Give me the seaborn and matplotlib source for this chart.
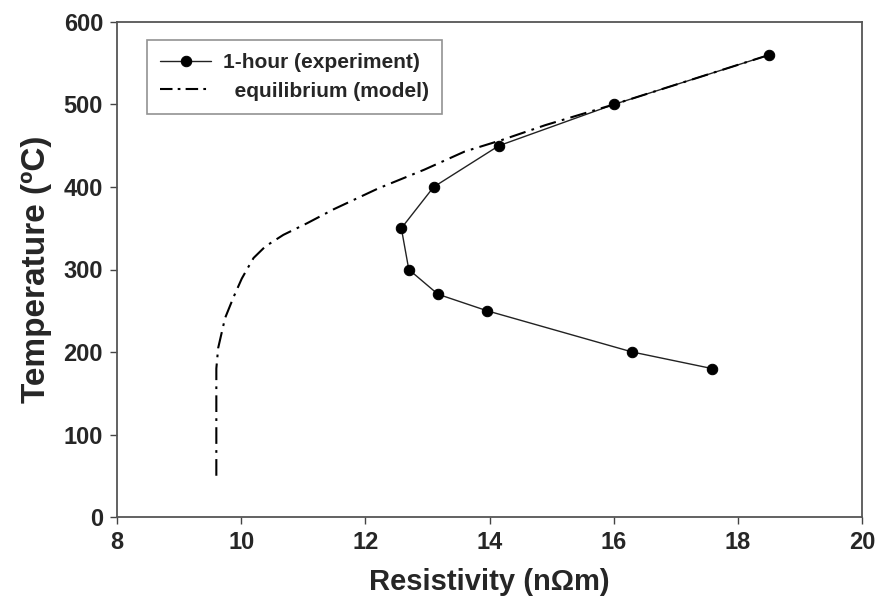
import matplotlib
matplotlib.use("Agg")
import matplotlib.pyplot as plt
import seaborn as sns
import pandas as pd

# Experimental data (1-hour)
exp_resistivity = [18.5, 16.0, 14.15, 13.1, 12.58, 12.7, 13.17, 13.96, 16.3, 17.58]
exp_temperature = [560, 500, 450, 400, 350, 300, 270, 250, 200, 180]

# Equilibrium model curve
model_resistivity = [9.6, 9.6, 9.63, 9.74, 9.88, 10.01, 10.1, 10.2, 10.39, 10.68,
                     11.06, 11.49, 12.2, 12.95, 13.6, 14.2, 14.9, 16.0, 18.5]
model_temperature = [50, 180, 205, 241, 267, 289, 301, 314, 328, 342,
                     356, 373, 398, 421, 443, 457, 475, 500, 560]

x_ticks = [8, 10, 12, 14, 16, 18, 20]
y_ticks = [0, 100, 200, 300, 400, 500, 600]

sns.set_style("white")
plt.rcParams['font.family'] = ['Liberation Sans', 'DejaVu Sans']
plt.rcParams['font.weight'] = 'bold'

exp_df = pd.DataFrame({"Resistivity": exp_resistivity, "Temperature": exp_temperature})
model_df = pd.DataFrame({"Resistivity": model_resistivity, "Temperature": model_temperature})

fig = plt.figure(figsize=(8.76, 5.96), dpi=100)
ax = fig.add_axes([117/876, 1 - 517/596, (862-117)/876, (517-22)/596])

sns.lineplot(data=exp_df, x="Resistivity", y="Temperature", sort=False, estimator=None,
             ax=ax, color="#222222", linewidth=1.0, marker="o", markersize=7.5,
             markeredgecolor="black", markerfacecolor="black",
             label="1-hour (experiment)")
sns.lineplot(data=model_df, x="Resistivity", y="Temperature", sort=False, estimator=None,
             ax=ax, color="black", linewidth=1.5, dashes=False,
             label="  equilibrium (model)")
ax.lines[1].set_dashes([8, 3, 1.3, 3])

ax.set_xlim(8, 20)
ax.set_ylim(0, 600)
ax.set_xticks(x_ticks)
ax.set_yticks(y_ticks)
ax.tick_params(axis='both', direction='out', length=5, width=1, labelsize=17,
               pad=5, left=True, bottom=True, color="#444444")
for lab in ax.get_xticklabels() + ax.get_yticklabels():
    lab.set_fontweight('bold')

for s in ax.spines.values():
    s.set_visible(True)
    s.set_color("#555555")
    s.set_linewidth(1.3)

ax.set_xlabel("Resistivity (n\u03a9m)", fontsize=21, fontweight='bold', labelpad=10)
ax.set_ylabel("Temperature (\u00baC)", fontsize=24, fontweight='bold', labelpad=8)

leg = ax.legend(loc="upper left", bbox_to_anchor=(0.040, 0.964), borderaxespad=0,
                frameon=True, fancybox=False, fontsize=15, handlelength=2.45,
                borderpad=0.65, labelspacing=0.45, handletextpad=0.55)
leg.get_frame().set_edgecolor("#777777")
leg.get_frame().set_linewidth(1.2)
for t in leg.get_texts():
    t.set_fontweight('bold')
leg.get_lines()[1].set_dashes([6, 2.5, 1.3, 2.5])

fig.savefig("out.png", dpi=100, facecolor="white")
